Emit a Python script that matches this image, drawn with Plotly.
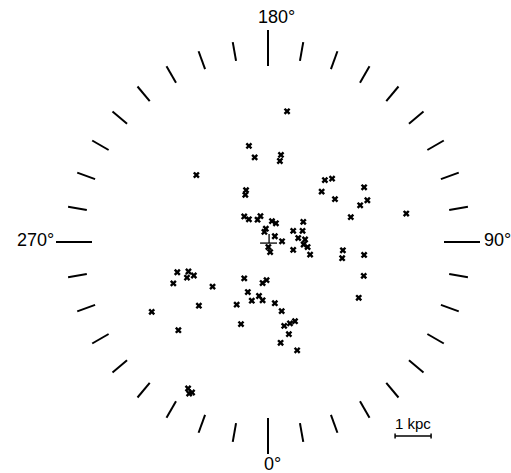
import numpy as np
import plotly.graph_objects as go

# Object positions (kpc), heliocentric; +y toward l=180, +x toward l=90
x_kpc = [0.53, -0.53, -0.37, 0.36, 0.33, -1.99, 1.58, 1.78, 1.49, 1.86, 2.67, 2.76, 2.56, 2.30, 3.84,
         -0.61, -0.63, -0.66, -0.53, -0.29, -0.21, 0.11, 0.22, -0.06, -0.10, 0.19, 0.39, 0.01, 0.06,
         0.70, 0.98, 0.96, 0.84, 1.03, 0.99, 1.10, 1.17, 0.70, 2.08, 2.06, 2.67, 2.66, 2.52,
         -0.04, -0.15, -0.25, -0.15, -0.45, 0.19, 0.38, 0.45, 0.61, 0.75, 0.58, 0.35, 0.81,
         -0.66, -0.56, -0.87, -0.75, -2.52, -2.21, -2.06, -2.25, -2.63, -1.54, -1.92, -3.23, -2.49,
         -2.22, -2.11, -2.19]
y_kpc = [3.63, 2.67, 2.35, 2.42, 2.25, 1.86, 1.72, 1.76, 1.40, 1.19, 1.52, 1.16, 1.02, 0.69, 0.79,
         1.44, 1.31, 0.71, 0.63, 0.62, 0.72, 0.58, 0.52, 0.37, 0.28, 0.16, 0.02, -0.14, -0.28,
         0.31, 0.56, 0.31, 0.11, 0.07, -0.07, -0.14, -0.35, -0.22, -0.23, -0.45, -0.36, -0.94, -1.55,
         -1.06, -1.14, -1.50, -1.62, -1.63, -1.70, -1.92, -2.33, -2.26, -2.20, -2.56, -2.80, -3.01,
         -1.01, -1.39, -1.74, -2.28, -0.84, -0.82, -0.93, -0.99, -1.15, -1.24, -1.77, -1.94, -2.45,
         -4.07, -4.18, -4.21]

tick_longitudes = list(range(0, 360, 10))
labelled_longitudes = [0, 90, 180, 270]
label_texts = ["0°", "90°", "180°", "270°"]
scale_bar_kpc = 1.0
scale_label = "1 kpc"

PX = 36.0  # pixels per kpc
CX, CY = 268.0, 242.0
W, H = 511, 473

fig = go.Figure()

# longitude tick ring
tx, ty = [], []
for l in tick_longitudes:
    a = np.radians(l)
    if l in labelled_longitudes:
        r0, r1 = 176 / PX, 212 / PX
    else:
        r0, r1 = 184 / PX, 203 / PX
    tx += [r0 * np.sin(a), r1 * np.sin(a), None]
    ty += [-r0 * np.cos(a), -r1 * np.cos(a), None]
fig.add_trace(go.Scatter(x=tx, y=ty, mode="lines", line=dict(color="black", width=2),
                         hoverinfo="skip", showlegend=False))

# Sun symbol
fig.add_trace(go.Scatter(x=[-0.22, 0.25, None, 0.03, 0.03], y=[-0.03, -0.03, None, -0.03, 0.22],
                         mode="lines", line=dict(color="black", width=1.3),
                         hoverinfo="skip", showlegend=False))

# objects
fig.add_trace(go.Scatter(x=x_kpc, y=y_kpc, mode="markers",
                         marker=dict(symbol="x", size=6, color="black", line=dict(width=0)),
                         showlegend=False))

# scale bar
sb_x0, sb_y = 3.53, -5.39
cap = 0.07
fig.add_trace(go.Scatter(x=[sb_x0, sb_x0 + scale_bar_kpc, None, sb_x0, sb_x0, None,
                            sb_x0 + scale_bar_kpc, sb_x0 + scale_bar_kpc],
                         y=[sb_y, sb_y, None, sb_y - cap, sb_y + cap, None, sb_y - cap, sb_y + cap],
                         mode="lines", line=dict(color="black", width=1.5),
                         hoverinfo="skip", showlegend=False))

font = dict(family="Liberation Sans, Arial, sans-serif", size=18, color="black")
anns = [
    dict(x=(272 - CX) / PX, y=(CY - 464) / PX, text=label_texts[0], xanchor="center", yanchor="middle"),
    dict(x=(482 - CX) / PX, y=(CY - 240) / PX, text=label_texts[1], xanchor="left", yanchor="middle"),
    dict(x=(276 - CX) / PX, y=(CY - 17) / PX, text=label_texts[2], xanchor="center", yanchor="middle"),
    dict(x=(56 - CX) / PX, y=(CY - 240) / PX, text=label_texts[3], xanchor="right", yanchor="middle"),
]
for a in anns:
    fig.add_annotation(**a, showarrow=False, font=font)
fig.add_annotation(x=sb_x0 + scale_bar_kpc / 2, y=(CY - 423) / PX, text=scale_label,
                   showarrow=False, font=dict(family="Liberation Sans, Arial, sans-serif", size=15, color="black"),
                   xanchor="center", yanchor="middle")

fig.update_layout(
    width=W, height=H, margin=dict(l=0, r=0, t=0, b=0, pad=0),
    plot_bgcolor="white", paper_bgcolor="white",
    xaxis=dict(range=[-CX / PX, (W - CX) / PX], visible=False, fixedrange=True),
    yaxis=dict(range=[-(H - CY) / PX, CY / PX], visible=False, fixedrange=True),
)
fig.write_html("out.html", config={"displayModeBar": False},
               post_script="document.body.style.margin='0';document.body.style.overflow='hidden';")
